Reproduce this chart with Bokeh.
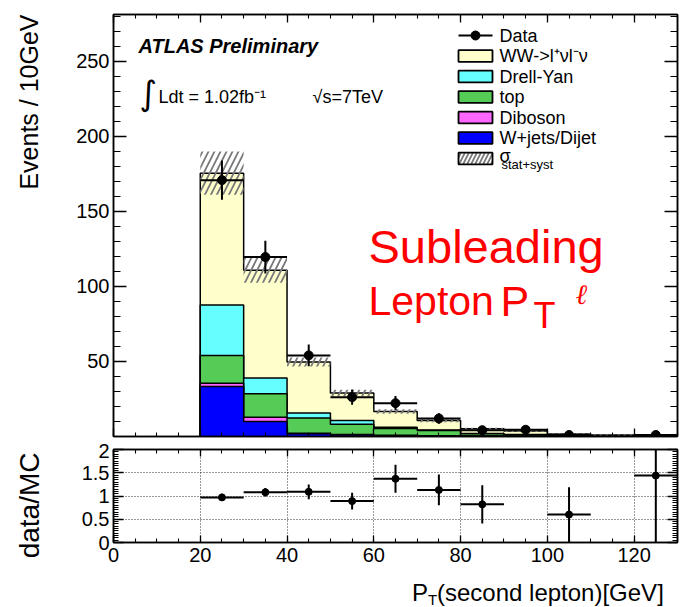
import numpy as np
from bokeh.plotting import figure
from bokeh.models import Label, LinearAxis, FixedTicker, CustomJSTickFormatter
from bokeh.layouts import column, row
from bokeh.embed import file_html
from bokeh.resources import INLINE

# ---------------- data ----------------
bin_lo = [20, 30, 40, 50, 60, 70, 80, 90, 100, 110, 120]
bin_hi = [30, 40, 50, 60, 70, 80, 90, 100, 110, 120, 130]
wjets = [33.3, 10.0, 1.8, 1.1, 0.5, 0.3, 0.2, 0.1, 0.0, 0.0, 0.0]
diboson = [2.2, 2.9, 0.3, 0.3, 0.3, 0.2, 0.1, 0.1, 0.05, 0.05, 0.03]
top = [18.5, 15.5, 10.3, 6.7, 4.5, 3.5, 1.5, 1.0, 0.5, 0.3, 0.2]
drellyan = [33.6, 10.5, 3.2, 2.6, 0.8, 0.4, 0.2, 0.1, 0.05, 0.05, 0.02]
ww = [87.7, 71.8, 34.0, 18.2, 10.5, 6.3, 3.1, 2.3, 1.1, 0.6, 0.45]
band_err = [14.4, 8.3, 3.0, 2.2, 1.5, 1.2, 0.8, 0.6, 0.4, 0.3, 0.3]

data_x = [25, 35, 45, 55, 65, 75, 85, 95, 105, 125]
data_y = [170.7, 119.5, 54.0, 26.2, 22.2, 12.0, 4.2, 4.5, 1.0, 1.0]
data_err = [13.1, 10.9, 7.3, 5.1, 4.7, 3.5, 2.0, 2.1, 1.0, 1.0]

ratio_x = [25, 35, 45, 55, 65, 75, 85, 105, 125]
ratio_y = [0.97, 1.08, 1.09, 0.89, 1.37, 1.13, 0.82, 0.60, 1.44]
ratio_err = [0.08, 0.09, 0.16, 0.18, 0.30, 0.33, 0.41, 0.59, 1.44]

legend_names = ["WW->l\u207a\u03bdl\u207b\u03bd", "Drell-Yan", "top", "Diboson", "W+jets/Dijet"]
colors = {"ww": "#FFFFCC", "dy": "#66FFFF", "top": "#55CC55", "dib": "#FF66FF", "wj": "#0000FF"}

x_major = [0, 20, 40, 60, 80, 100, 120]
x_minor = list(range(0, 131, 5))
y_major = [50, 100, 150, 200, 250]
y_minor = list(range(0, 281, 10))
r_major = [0, 0.5, 1, 1.5, 2]
r_minor = [round(v * 0.05, 2) for v in range(0, 41)]

FONT = "Liberation Sans"
BIN_W = 10
W, H = 685, 607
LEFT_W = 46

# pixel geometry of the main frame (page pixels), used only for placing texts
FX0, FX1, FY0, FY1 = 113.0, 677.0, 14.0, 436.0
XMAX, YMAX = 130.0, 281.0
SHIFT = 0.37  # baseline offset of rendered text, in em


def gx(px):
    return (px - FX0) / (FX1 - FX0) * XMAX


def gy(py, fs=0.0):
    return (FY1 - (py - SHIFT * fs)) / (FY1 - FY0) * YMAX


# ---------------- helpers ----------------
def style_axis(ax, ticks, minor, maj_in, min_in, labels=True, fs="20px", standoff=3):
    ax.ticker = FixedTicker(ticks=ticks, minor_ticks=minor)
    ax.major_tick_in = maj_in
    ax.major_tick_out = 0
    ax.minor_tick_in = min_in
    ax.minor_tick_out = 0
    ax.major_tick_line_color = "black"
    ax.minor_tick_line_color = "black"
    ax.major_tick_line_width = 1.3
    ax.minor_tick_line_width = 1.1
    ax.axis_line_color = "black"
    ax.axis_line_width = 1.5
    if labels:
        ax.major_label_text_font = FONT
        ax.major_label_text_font_size = fs
        ax.major_label_text_color = "black"
        ax.major_label_standoff = standoff
    else:
        ax.formatter = CustomJSTickFormatter(code="return ''")
        ax.major_label_text_font_size = "1px"
        ax.major_label_standoff = 0


def step_poly(edges_lo, edges_hi, heights):
    xs, ys = [edges_lo[0]], [0.0]
    for lo, hi, h in zip(edges_lo, edges_hi, heights):
        xs += [lo, hi]
        ys += [h, h]
    xs.append(edges_hi[-1])
    ys.append(0.0)
    return xs, ys


def lbl(fig, x, y, text, size, **kw):
    opts = dict(text_font=FONT, text_color="black", text_baseline="alphabetic")
    opts.update(kw)
    fig.add_layout(Label(x=x, y=y, text=text, text_font_size=f"{size}px", **opts))


def main_text(fig, px, base_py, text, size, **kw):
    lbl(fig, gx(px), gy(base_py, size), text, size, **kw)


def center_text(fig, px, center_py, text, size, **kw):
    lbl(fig, gx(px), (FY1 - center_py) / (FY1 - FY0) * YMAX, text, size, **kw)


# ---------------- main panel ----------------
p = figure(width=W - LEFT_W, height=443, x_range=(0, XMAX), y_range=(0, YMAX),
           output_backend="svg", toolbar_location=None,
           min_border_left=int(FX0) - LEFT_W, min_border_right=8,
           min_border_top=14, min_border_bottom=7)
p.grid.visible = False
p.outline_line_color = "black"
p.outline_line_width = 1.5
p.background_fill_color = "white"
p.border_fill_color = "white"

style_axis(p.xaxis[0], x_major, x_minor, 8, 4, labels=False)
style_axis(p.yaxis[0], y_major, y_minor, 13, 7, labels=True, fs="20px", standoff=4)
ax_top = LinearAxis()
style_axis(ax_top, x_major, x_minor, 8, 4, labels=False)
p.add_layout(ax_top, "above")
ax_right = LinearAxis()
style_axis(ax_right, y_major, y_minor, 13, 7, labels=False)
p.add_layout(ax_right, "right")

c1 = np.array(wjets)
c2 = c1 + np.array(diboson)
c3 = c2 + np.array(top)
c4 = c3 + np.array(drellyan)
c5 = c4 + np.array(ww)

for cum, col in [(c5, colors["ww"]), (c4, colors["dy"]), (c3, colors["top"]),
                 (c2, colors["dib"]), (c1, colors["wj"])]:
    xs, ys = step_poly(bin_lo, bin_hi, list(cum))
    p.patch(xs, ys, fill_color=col, line_color="black", line_width=1.5)

p.quad(left=bin_lo, right=bin_hi, bottom=list(c5 - np.array(band_err)),
       top=list(c5 + np.array(band_err)), fill_color=None, line_color=None,
       hatch_pattern="/", hatch_color="#7a7a7a", hatch_weight=1.8, hatch_scale=12)

dx = np.array(data_x, dtype=float)
dy = np.array(data_y)
de = np.array(data_err)
p.segment(x0=list(dx), y0=list(np.maximum(dy - de, 0)), x1=list(dx), y1=list(dy + de),
          line_color="black", line_width=2)
p.segment(x0=list(dx - BIN_W / 2), y0=data_y, x1=list(dx + BIN_W / 2), y1=data_y,
          line_color="black", line_width=2)
p.scatter(data_x, data_y, size=9, color="black")

# texts in the main panel
main_text(p, 138, 53, "ATLAS Preliminary", 20, text_font_style="bold italic")
main_text(p, 139, 105, "\u222b", 34, text_font="DejaVu Sans")
main_text(p, 158, 103, "Ldt = 1.02fb\u207b\u00b9", 18)
main_text(p, 312, 103, "\u221as=7TeV", 18)

main_text(p, 368, 263, "Subleading", 47, text_color="#FF0000")
main_text(p, 368, 316, "Lepton", 41, text_color="#FF0000")
main_text(p, 500, 316, "P", 43, text_color="#FF0000")
main_text(p, 533, 328, "T", 36, text_color="#FF0000")
main_text(p, 575, 304, "\u2113", 28, text_color="#FF0000", text_font="DejaVu Serif",
          text_font_style="italic")

# legend (drawn by hand, ROOT style)
leg_x0, leg_x1 = gx(458), gx(492)
row_py = [35 + 20.5 * i for i in range(7)]
box_half = 5.8 / (FY1 - FY0) * YMAX
ry0 = (FY1 - row_py[0]) / (FY1 - FY0) * YMAX
p.segment(x0=[leg_x0], y0=[ry0], x1=[leg_x1], y1=[ry0], line_color="black", line_width=2)
p.scatter([(leg_x0 + leg_x1) / 2], [ry0], size=9, color="black")
center_text(p, 499, row_py[0], "Data", 18)
fills = [colors["ww"], colors["dy"], colors["top"], colors["dib"], colors["wj"]]
for name, col, py in zip(legend_names, fills, row_py[1:6]):
    yy = (FY1 - py) / (FY1 - FY0) * YMAX
    p.quad(left=[leg_x0], right=[leg_x1], bottom=[yy - box_half], top=[yy + box_half],
           fill_color=col, line_color="black", line_width=1.8)
    center_text(p, 499, py, name, 18)
yy = (FY1 - row_py[6]) / (FY1 - FY0) * YMAX
p.quad(left=[leg_x0], right=[leg_x1], bottom=[yy - box_half], top=[yy + box_half],
       fill_color="white", line_color="black", line_width=1.8,
       hatch_pattern="/", hatch_color="#7a7a7a", hatch_weight=1.8, hatch_scale=8)
center_text(p, 499, row_py[6] - 3, "\u03c3", 18)
center_text(p, 501, row_py[6] + 6, "stat+syst", 13)

# ---------------- ratio panel ----------------
r = figure(width=W - LEFT_W, height=131, x_range=p.x_range, y_range=(0, 2),
           output_backend="svg", toolbar_location=None,
           min_border_left=int(FX0) - LEFT_W, min_border_right=8,
           min_border_top=6, min_border_bottom=32)
r.outline_line_color = "black"
r.outline_line_width = 1.5
r.background_fill_color = "white"
r.border_fill_color = "white"
style_axis(r.xaxis[0], x_major, x_minor, 7, 4, labels=True, fs="20px", standoff=5)
style_axis(r.yaxis[0], r_major, r_minor, 10, 5, labels=True, fs="20px", standoff=4)
r.yaxis[0].major_label_overrides = {0: "0", 0.5: "0.5", 1: "1", 1.5: "1.5", 2: "2"}
r_top = LinearAxis()
style_axis(r_top, x_major, x_minor, 7, 4, labels=False)
r.add_layout(r_top, "above")
r_right = LinearAxis()
style_axis(r_right, r_major, r_minor, 10, 5, labels=False)
r.add_layout(r_right, "right")

r.xgrid.ticker = FixedTicker(ticks=[20, 40, 60, 80, 100, 120])
r.ygrid.ticker = FixedTicker(ticks=[0.5, 1, 1.5])
r.grid.grid_line_color = "black"
r.grid.grid_line_dash = "1 2"
r.grid.grid_line_width = 1
r.grid.grid_line_alpha = 0.8

rx = np.array(ratio_x, dtype=float)
ry = np.array(ratio_y)
re_ = np.array(ratio_err)
r.segment(x0=list(rx), y0=list(np.maximum(ry - re_, 0)), x1=list(rx), y1=list(ry + re_),
          line_color="black", line_width=2)
r.segment(x0=list(rx - BIN_W / 2), y0=ratio_y, x1=list(rx + BIN_W / 2), y1=ratio_y,
          line_color="black", line_width=2)
r.scatter(ratio_x, ratio_y, size=7, color="black")

# ---------------- x-axis title strip (frame aligned with the panels) ----------------
T_H = H - 443 - 131
t = figure(width=W - LEFT_W, height=T_H, x_range=p.x_range, y_range=(0, T_H),
           output_backend="svg", toolbar_location=None, x_axis_type=None, y_axis_type=None,
           min_border=0, min_border_left=int(FX0) - LEFT_W, min_border_right=8,
           min_border_top=0, min_border_bottom=0, title=None)
t.grid.visible = False
t.outline_line_color = None
t.background_fill_color = "white"
t.border_fill_color = "white"


def strip_text(fig, px, base_py, text, size, **kw):
    lbl(fig, gx(px), H - (base_py - SHIFT * size), text, size, **kw)


strip_text(t, 411.5, 600.5, "P", 24)
strip_text(t, 427.5, 605.0, "T", 15)
strip_text(t, 436.5, 600.5, "(second lepton)[GeV]", 24)

# ---------------- y-axis titles strip ----------------
lf = figure(width=LEFT_W, height=H, x_range=(0, LEFT_W), y_range=(0, H),
            output_backend="svg", toolbar_location=None, x_axis_type=None, y_axis_type=None,
            min_border=0, min_border_left=0, min_border_right=0,
            min_border_top=0, min_border_bottom=0, title=None)
lf.grid.visible = False
lf.outline_line_color = None
lf.background_fill_color = "white"
lf.border_fill_color = "white"
lf.add_layout(Label(x=28, y=H - 14, text="Events / 10GeV", angle=np.pi / 2,
                    text_align="right", text_baseline="alphabetic",
                    text_font=FONT, text_font_size="25px", text_color="black"))
lf.add_layout(Label(x=29, y=H - 452, text="data/MC", angle=np.pi / 2,
                    text_align="right", text_baseline="alphabetic",
                    text_font=FONT, text_font_size="28px", text_color="black"))

layout = row(lf, column(p, r, t, spacing=0), spacing=0)
open("out.html", "w").write(file_html(layout, INLINE))
